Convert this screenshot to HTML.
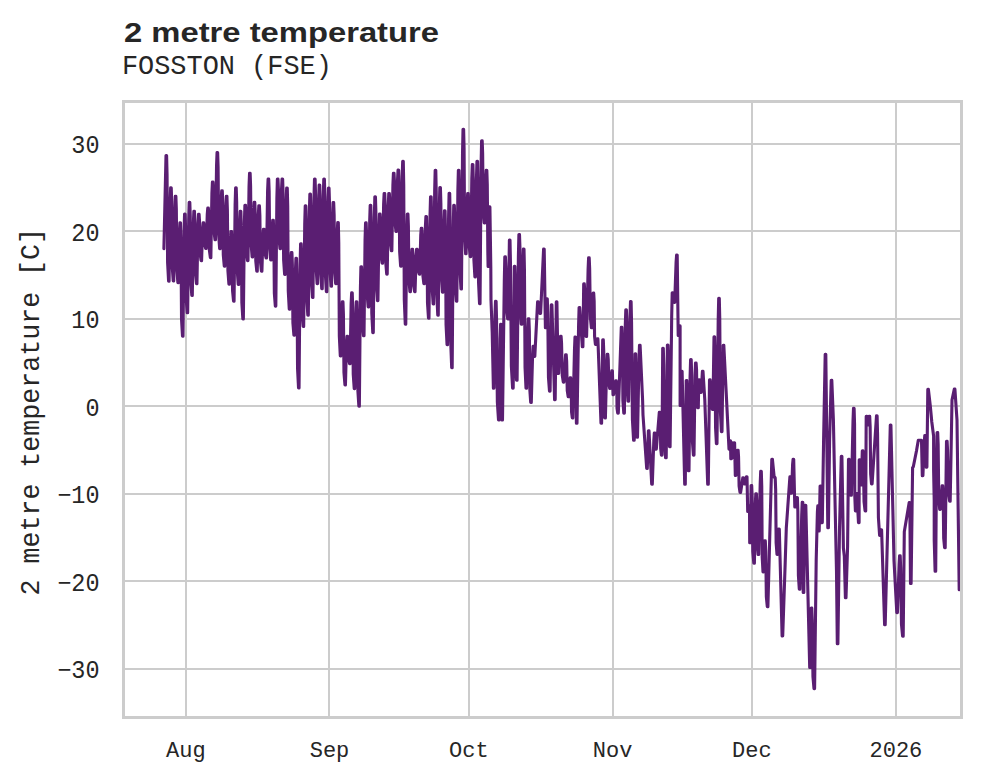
<!DOCTYPE html>
<html><head><meta charset="utf-8"><title>2 metre temperature</title>
<style>
html,body{margin:0;padding:0;background:#fff;}
body{width:981px;height:782px;overflow:hidden;font-family:"Liberation Sans",sans-serif;}
svg{display:block}
.mono{font-family:"Liberation Mono",monospace;}
.sans{font-family:"Liberation Sans",sans-serif;}
</style></head><body>
<svg width="981" height="782" viewBox="0 0 981 782">
<rect x="0" y="0" width="981" height="782" fill="#ffffff"/>
<g stroke="#cccccc" stroke-width="2" fill="none"><line x1="186" y1="101" x2="186" y2="718"/><line x1="329" y1="101" x2="329" y2="718"/><line x1="469" y1="101" x2="469" y2="718"/><line x1="613" y1="101" x2="613" y2="718"/><line x1="752" y1="101" x2="752" y2="718"/><line x1="896" y1="101" x2="896" y2="718"/><line x1="123" y1="144" x2="961" y2="144"/><line x1="123" y1="231" x2="961" y2="231"/><line x1="123" y1="319" x2="961" y2="319"/><line x1="123" y1="406" x2="961" y2="406"/><line x1="123" y1="494" x2="961" y2="494"/><line x1="123" y1="581" x2="961" y2="581"/><line x1="123" y1="669" x2="961" y2="669"/></g>
<path d="M163.90,248.8 L166.00,155.6 L166.60,155.6 L167.05,174.4 L167.60,262.4 L168.59,281.2 L169.09,281.2 L170.14,201.7 L170.64,187.7 L171.24,187.7 L171.69,201.6 L172.24,267.0 L173.23,280.9 L173.73,280.9 L174.78,209.0 L175.28,196.4 L175.88,196.4 L176.33,209.3 L176.88,269.6 L177.87,282.6 L178.37,282.6 L179.42,231.7 L179.92,222.8 L180.52,222.8 L180.97,239.8 L181.52,319.2 L182.51,336.2 L183.01,336.2 L184.06,232.4 L184.56,214.1 L185.16,214.1 L185.61,228.9 L186.16,297.9 L187.15,312.8 L187.65,312.8 L188.70,218.9 L189.20,202.4 L189.81,202.4 L190.25,216.3 L190.81,281.5 L191.80,295.4 L192.30,295.4 L193.35,223.9 L193.85,211.3 L194.45,211.3 L194.90,222.1 L195.45,272.7 L196.44,283.6 L196.94,283.6 L197.99,224.7 L198.49,214.4 L199.09,214.4 L199.54,221.3 L200.09,253.6 L201.08,260.6 L201.58,260.6 L202.63,228.4 L203.13,222.8 L203.73,222.8 L204.18,226.6 L204.73,244.7 L205.72,248.5 L206.22,248.5 L207.27,214.1 L207.77,208.1 L208.37,208.1 L208.82,215.5 L209.37,250.1 L210.36,257.6 L210.86,257.6 L211.91,193.3 L212.41,182.0 L213.01,182.0 L213.46,190.6 L214.01,231.2 L215.00,239.8 L215.50,239.8 L216.55,165.6 L217.05,152.5 L217.65,152.5 L218.10,166.9 L218.65,234.3 L219.64,248.7 L220.14,248.7 L221.19,199.5 L221.69,190.9 L222.29,190.9 L222.74,202.2 L223.29,254.9 L224.28,266.2 L224.78,266.2 L225.83,206.8 L226.33,196.4 L226.93,196.4 L227.38,209.5 L227.93,270.9 L228.92,284.1 L229.42,284.1 L230.47,239.3 L230.97,231.5 L231.57,231.5 L232.02,241.9 L232.57,290.8 L233.56,301.2 L234.06,301.2 L235.12,204.9 L235.62,187.9 L236.22,187.9 L236.67,202.3 L237.22,269.9 L238.21,284.4 L238.71,284.4 L239.76,222.2 L240.26,211.3 L240.86,211.3 L241.31,227.4 L241.86,302.7 L242.85,318.9 L243.35,318.9 L244.40,222.2 L244.90,205.2 L245.50,205.2 L245.95,213.5 L246.50,252.2 L247.49,260.6 L247.99,260.6 L249.04,186.3 L249.54,173.2 L250.14,173.2 L250.59,185.7 L251.14,244.4 L252.13,256.9 L252.63,256.9 L253.68,210.5 L254.18,202.4 L254.78,202.4 L255.23,212.7 L255.78,260.9 L256.77,271.2 L257.27,271.2 L258.32,215.5 L258.82,205.7 L259.42,205.7 L259.87,215.5 L260.42,261.4 L261.41,271.2 L261.91,271.2 L262.96,235.5 L263.46,229.2 L264.06,229.2 L264.51,233.5 L265.06,253.6 L266.05,257.9 L266.55,257.9 L267.60,190.8 L268.10,179.0 L268.70,179.0 L269.15,191.1 L269.70,247.8 L270.69,259.9 L271.19,259.9 L272.24,226.1 L272.74,220.2 L273.34,220.2 L273.79,233.0 L274.34,293.2 L275.33,306.1 L275.83,306.1 L276.88,198.0 L277.38,179.0 L277.98,179.0 L278.43,189.4 L278.98,238.3 L279.98,248.7 L280.48,248.7 L281.53,189.4 L282.03,179.0 L282.63,179.0 L283.08,193.3 L283.63,260.0 L284.62,274.4 L285.12,274.4 L286.17,201.0 L286.67,188.1 L287.27,188.1 L287.72,206.2 L288.27,290.9 L289.26,309.1 L289.76,309.1 L290.81,260.9 L291.31,252.5 L291.91,252.5 L292.36,264.9 L292.91,322.8 L293.90,335.2 L294.40,335.2 L295.45,269.7 L295.95,258.2 L296.55,258.2 L297.00,277.6 L297.55,368.4 L298.54,387.9 L299.04,387.9 L300.09,265.3 L300.59,243.7 L301.19,243.7 L301.64,256.1 L302.19,314.0 L303.18,326.4 L303.68,326.4 L304.73,223.8 L305.23,205.7 L305.83,205.7 L306.28,222.1 L306.83,298.8 L307.82,315.2 L308.32,315.2 L309.37,212.1 L309.87,194.0 L310.47,194.0 L310.92,209.5 L311.47,281.9 L312.46,297.4 L312.96,297.4 L314.01,196.7 L314.51,179.0 L315.11,179.0 L315.56,194.6 L316.11,267.9 L317.10,283.6 L317.60,283.6 L318.65,199.7 L319.15,185.0 L319.75,185.0 L320.20,200.5 L320.75,273.1 L321.74,288.7 L322.24,288.7 L323.29,195.4 L323.79,179.0 L324.39,179.0 L324.84,195.9 L325.39,274.7 L326.38,291.7 L326.88,291.7 L327.94,203.6 L328.44,188.1 L329.04,188.1 L329.49,202.8 L330.04,271.4 L331.03,286.2 L331.53,286.2 L332.58,215.1 L333.08,202.6 L333.68,202.6 L334.13,214.7 L334.68,271.4 L335.67,283.6 L336.17,283.6 L337.22,231.6 L337.72,222.5 L338.32,222.5 L338.77,242.5 L339.32,335.8 L340.31,355.9 L340.81,355.9 L341.86,309.8 L342.36,301.7 L342.96,301.7 L343.41,314.1 L343.96,372.5 L344.95,384.9 L345.45,384.9 L346.50,343.6 L347.00,336.3 L347.60,336.3 L348.05,340.3 L348.60,359.5 L349.59,363.6 L350.09,363.6 L351.14,303.4 L351.64,292.8 L352.24,292.8 L352.69,307.1 L353.24,374.2 L354.23,388.6 L354.73,388.6 L355.78,314.7 L356.28,301.7 L356.88,301.7 L357.33,317.3 L357.88,390.6 L358.87,406.2 L359.37,406.2 L360.42,287.6 L360.92,266.7 L361.52,266.7 L361.97,277.0 L362.52,325.4 L363.51,335.8 L364.01,335.8 L365.06,239.6 L365.56,222.7 L366.16,222.7 L366.61,235.3 L367.16,294.3 L368.15,306.9 L368.65,306.9 L369.70,220.5 L370.20,205.2 L370.80,205.2 L371.25,224.3 L371.80,313.5 L372.79,332.6 L373.29,332.6 L374.34,217.0 L374.84,196.7 L375.44,196.7 L375.89,212.2 L376.44,285.0 L377.44,300.6 L377.94,300.6 L378.99,227.0 L379.49,214.1 L380.09,214.1 L380.54,221.4 L381.09,255.7 L382.08,263.1 L382.58,263.1 L383.63,204.0 L384.13,193.6 L384.73,193.6 L385.18,205.6 L385.73,262.0 L386.72,274.1 L387.22,274.1 L388.27,205.6 L388.77,193.6 L389.37,193.6 L389.82,202.1 L390.37,242.2 L391.36,250.7 L391.86,250.7 L392.91,184.8 L393.41,173.2 L394.01,173.2 L394.46,181.9 L395.01,222.8 L396.00,231.5 L396.50,231.5 L397.55,179.3 L398.05,170.1 L398.65,170.1 L399.10,184.5 L399.65,251.7 L400.64,266.2 L401.14,266.2 L402.19,177.0 L402.69,161.2 L403.29,161.2 L403.74,185.7 L404.29,299.8 L405.28,324.2 L405.78,324.2 L406.83,230.6 L407.33,214.1 L407.93,214.1 L408.38,225.7 L408.93,279.9 L409.92,291.6 L410.42,291.6 L411.47,255.6 L411.97,249.2 L412.57,249.2 L413.02,255.6 L413.57,285.2 L414.56,291.6 L415.06,291.6 L416.11,255.6 L416.61,249.2 L417.21,249.2 L417.66,253.0 L418.21,270.3 L419.20,274.1 L419.70,274.1 L420.75,235.2 L421.25,228.3 L421.86,228.3 L422.31,236.6 L422.86,275.3 L423.85,283.6 L424.35,283.6 L425.40,226.5 L425.90,216.5 L426.50,216.5 L426.95,231.7 L427.50,302.9 L428.49,318.2 L428.99,318.2 L430.04,214.9 L430.54,196.7 L431.14,196.7 L431.59,212.7 L432.14,287.9 L433.13,303.9 L433.63,303.9 L434.68,190.2 L435.18,170.2 L435.78,170.2 L436.23,191.9 L436.78,293.5 L437.77,315.2 L438.27,315.2 L439.32,206.6 L439.82,187.5 L440.42,187.5 L440.87,203.2 L441.42,276.5 L442.41,292.2 L442.91,292.2 L443.96,223.1 L444.46,210.8 L445.06,210.8 L445.51,230.9 L446.06,324.6 L447.05,344.7 L447.55,344.7 L448.60,216.0 L449.10,193.2 L449.70,193.2 L450.15,219.4 L450.70,341.5 L451.69,367.7 L452.19,367.7 L453.24,229.5 L453.74,205.2 L454.34,205.2 L454.79,219.6 L455.34,286.8 L456.33,301.2 L456.83,301.2 L457.88,189.8 L458.38,170.2 L458.98,170.2 L459.43,188.0 L459.98,271.0 L460.97,288.9 L461.47,288.9 L462.52,153.2 L463.02,129.2 L463.62,129.2 L464.07,147.9 L464.62,235.2 L465.62,253.8 L466.12,253.8 L467.17,202.6 L467.67,193.6 L468.27,193.6 L468.72,203.0 L469.27,247.1 L470.26,256.6 L470.76,256.6 L471.81,178.3 L472.31,164.5 L472.91,164.5 L473.36,181.3 L473.91,260.0 L474.90,276.9 L475.40,276.9 L476.45,178.7 L476.95,161.3 L477.55,161.3 L478.00,182.7 L478.55,282.4 L479.54,303.8 L480.04,303.8 L481.09,165.3 L481.59,140.8 L482.19,140.8 L482.64,153.2 L483.19,210.6 L484.18,222.9 L484.68,222.9 L485.73,178.1 L486.23,170.2 L486.83,170.2 L487.28,184.6 L487.83,252.0 L488.10,266.4 L488.70,266.4 L489.30,206.9 L489.90,206.9 L490.80,267.0 L491.00,300.0 L492.20,332.0 L493.40,388.1 L494.00,388.1 L495.00,314.2 L495.50,301.2 L496.10,301.2 L496.55,319.0 L497.36,402.1 L498.50,419.9 L499.10,419.9 L500.10,338.6 L500.60,324.2 L501.20,324.2 L501.90,419.9 L502.50,419.9 L504.30,281.3 L504.80,256.9 L505.40,256.9 L505.85,266.2 L506.61,309.6 L507.70,318.9 L508.30,318.9 L509.40,240.1 L510.00,240.1 L510.45,262.2 L511.36,365.9 L512.60,388.1 L513.20,388.1 L514.30,266.4 L514.90,266.4 L515.35,283.4 L515.74,363.2 L516.50,380.3 L517.10,380.3 L518.40,256.3 L518.90,234.5 L519.50,234.5 L519.95,247.9 L520.40,310.7 L521.20,324.1 L521.80,324.1 L522.90,260.2 L523.40,249.0 L524.00,249.0 L524.45,269.8 L525.05,367.4 L526.00,388.2 L526.60,388.2 L527.80,329.1 L528.30,318.7 L528.90,318.7 L529.35,331.2 L529.85,389.9 L530.70,402.4 L531.30,402.4 L532.60,354.6 L533.10,346.2 L533.70,346.2 L534.20,356.4 L534.80,356.4 L537.60,301.9 L538.20,301.9 L540.00,313.4 L540.60,313.4 L543.60,249.1 L544.20,249.1 L545.40,327.8 L546.00,327.8 L546.70,298.9 L547.30,298.9 L547.75,312.7 L548.46,377.3 L549.50,391.1 L550.10,391.1 L551.30,304.7 L551.90,304.7 L554.60,399.6 L555.20,399.6 L556.30,301.9 L556.90,301.9 L558.10,373.4 L558.70,373.4 L560.00,341.9 L560.50,336.4 L561.10,336.4 L561.55,343.2 L562.26,375.2 L563.30,382.1 L563.90,382.1 L565.60,354.7 L566.20,354.7 L566.65,361.0 L567.25,390.5 L568.20,396.8 L568.80,396.8 L570.10,377.9 L570.70,377.9 L571.15,383.9 L571.54,411.9 L572.30,417.9 L572.90,417.9 L574.50,349.2 L575.00,337.1 L575.60,337.1 L576.40,423.2 L577.00,423.2 L578.60,324.8 L579.10,307.5 L579.70,307.5 L582.30,346.8 L582.90,346.8 L583.70,283.9 L584.30,283.9 L584.75,291.7 L585.20,328.6 L586.00,336.4 L586.60,336.4 L588.10,269.6 L588.60,257.9 L589.20,257.9 L589.65,268.4 L590.36,317.3 L591.40,327.8 L592.00,327.8 L593.10,293.1 L593.70,293.1 L594.15,300.8 L594.60,336.7 L595.40,344.4 L596.00,344.4 L597.30,338.9 L597.90,338.9 L601.00,423.2 L601.60,423.2 L602.70,339.9 L603.30,339.9 L603.75,351.6 L604.09,406.2 L604.80,417.9 L605.40,417.9 L606.70,363.9 L607.20,354.4 L607.80,354.4 L608.25,359.5 L608.80,383.3 L609.70,388.4 L610.30,388.4 L611.80,370.9 L612.40,370.9 L613.00,394.6 L613.60,394.6 L615.70,380.9 L616.30,380.9 L616.75,385.7 L617.04,408.3 L617.70,413.1 L618.30,413.1 L621.30,327.2 L621.90,327.2 L622.35,340.1 L622.90,400.3 L623.80,413.1 L624.40,413.1 L625.30,325.3 L625.80,309.9 L626.40,309.9 L626.85,323.5 L627.24,387.5 L628.00,401.1 L628.60,401.1 L630.00,316.4 L630.50,301.5 L631.10,301.5 L631.55,322.3 L632.41,419.5 L633.60,440.3 L634.20,440.3 L635.10,353.8 L635.70,353.8 L636.90,437.1 L637.50,437.1 L639.00,359.1 L639.50,345.4 L640.10,345.4 L642.60,400.0 L643.00,415.0 L646.70,468.4 L647.30,468.4 L648.40,430.9 L649.00,430.9 L651.70,484.2 L652.30,484.2 L653.80,440.7 L654.30,433.1 L654.90,433.1 L655.70,449.1 L656.30,449.1 L659.30,412.4 L659.90,412.4 L660.35,418.8 L660.69,448.7 L661.40,455.1 L662.00,455.1 L662.70,348.2 L663.30,348.2 L663.75,364.6 L664.51,441.3 L665.60,457.8 L666.20,457.8 L667.40,345.1 L668.00,345.1 L668.45,360.3 L668.79,431.6 L669.50,446.8 L670.10,446.8 L671.70,315.8 L672.20,292.7 L672.80,292.7 L674.10,302.4 L674.70,302.4 L676.10,262.1 L676.60,255.0 L677.20,255.0 L678.20,335.4 L678.80,335.4 L679.50,325.9 L680.10,325.9 L680.12,405.4 L680.50,405.4 L681.50,371.2 L682.10,371.2 L684.70,484.2 L685.30,484.2 L686.20,380.5 L686.80,380.5 L687.25,394.0 L687.64,457.2 L688.40,470.8 L689.00,470.8 L690.10,376.2 L690.60,359.6 L691.20,359.6 L691.65,373.9 L692.36,440.8 L693.40,455.1 L694.00,455.1 L695.00,376.8 L695.50,363.0 L696.10,363.0 L696.55,369.7 L696.94,401.0 L697.70,407.8 L698.30,407.8 L698.80,379.9 L699.40,379.9 L700.60,392.4 L701.20,392.4 L702.40,371.4 L703.00,371.4 L704.80,400.0 L707.70,484.2 L708.30,484.2 L709.50,379.9 L710.10,379.9 L712.30,409.4 L712.90,409.4 L714.00,336.9 L714.60,336.9 L715.05,352.9 L715.55,427.5 L716.40,443.6 L717.00,443.6 L718.20,320.1 L718.70,298.4 L719.30,298.4 L719.75,318.3 L720.40,411.7 L721.40,431.6 L722.00,431.6 L723.20,345.2 L723.80,345.2 L726.00,388.7 L729.00,449.1 L729.60,449.1 L729.90,440.9 L730.50,440.9 L730.80,458.6 L731.40,458.6 L731.90,442.9 L732.50,442.9 L732.52,457.4 L733.10,457.4 L734.00,442.9 L734.60,442.9 L735.30,475.4 L735.90,475.4 L737.50,450.2 L738.10,450.2 L738.55,456.6 L739.10,486.1 L740.00,492.4 L740.60,492.4 L742.80,477.7 L743.40,477.7 L744.30,483.9 L744.90,483.9 L746.40,476.7 L747.00,476.7 L747.70,511.4 L748.30,511.4 L748.90,505.9 L749.50,505.9 L749.70,542.8 L750.30,542.8 L751.10,485.5 L751.70,485.5 L752.15,497.1 L752.80,551.5 L753.80,563.2 L754.40,563.2 L755.30,504.2 L755.80,493.9 L756.40,493.9 L756.85,502.9 L757.30,545.4 L758.10,554.5 L758.70,554.5 L760.20,483.7 L760.70,471.2 L761.30,471.2 L761.75,486.3 L762.20,556.8 L763.00,571.9 L763.60,571.9 L764.70,540.8 L765.30,540.8 L765.75,550.7 L766.35,596.8 L767.30,606.7 L767.90,606.7 L771.80,459.2 L772.40,459.2 L774.20,477.4 L774.80,477.4 L774.82,477.7 L775.20,477.7 L775.65,489.2 L776.15,542.9 L777.00,554.5 L777.60,554.5 L778.70,529.0 L779.30,529.0 L782.10,636.0 L782.70,636.0 L785.20,562.6 L786.30,528.2 L789.90,476.9 L790.50,476.9 L791.00,493.1 L791.60,493.1 L792.60,464.3 L793.10,459.2 L793.70,459.2 L794.80,506.9 L795.40,506.9 L796.80,497.6 L797.40,497.6 L797.85,511.3 L798.40,575.5 L799.30,589.2 L799.90,589.2 L801.70,515.2 L802.20,502.2 L802.80,502.2 L803.20,592.5 L803.80,592.5 L804.70,518.3 L805.20,505.2 L805.80,505.2 L809.70,667.5 L810.30,667.5 L811.20,608.0 L811.80,608.0 L812.25,620.1 L812.96,676.5 L814.00,688.6 L814.60,688.6 L816.20,560.0 L817.40,512.0 L817.80,505.9 L818.40,505.9 L818.60,531.0 L819.20,531.0 L820.10,486.1 L820.70,486.1 L821.70,522.6 L822.30,522.6 L823.60,440.0 L825.20,354.2 L825.80,354.2 L826.80,440.0 L827.80,527.7 L828.40,527.7 L829.60,440.0 L831.20,380.2 L831.80,380.2 L833.40,420.0 L834.80,490.0 L836.50,572.0 L837.30,643.7 L837.90,643.7 L839.50,530.0 L841.30,456.2 L841.90,456.2 L843.40,548.0 L844.30,556.0 L845.40,597.7 L846.00,597.7 L847.60,546.0 L848.50,459.2 L849.10,459.2 L849.55,464.6 L850.00,489.9 L850.80,495.3 L851.40,495.3 L853.00,421.4 L853.50,408.4 L854.10,408.4 L854.55,423.7 L854.79,495.6 L855.40,510.9 L856.00,510.9 L856.30,493.6 L856.90,493.6 L858.50,522.6 L859.10,522.6 L859.20,459.9 L859.80,459.9 L860.70,484.9 L861.30,484.9 L862.30,450.8 L862.90,450.8 L863.35,459.8 L864.06,501.9 L865.10,510.9 L865.70,510.9 L866.20,416.4 L866.80,416.4 L867.70,424.9 L868.30,424.9 L869.10,416.4 L869.70,416.4 L870.15,426.6 L870.65,473.8 L871.50,483.9 L872.10,483.9 L876.50,415.8 L877.10,415.8 L877.55,433.7 L878.41,517.5 L879.60,535.5 L880.20,535.5 L881.00,529.8 L881.60,529.8 L882.10,546.0 L884.60,624.7 L885.20,624.7 L890.30,425.0 L890.90,425.0 L894.00,560.6 L896.80,612.7 L897.40,612.7 L899.10,564.3 L899.60,555.7 L900.20,555.7 L900.65,567.8 L901.46,624.1 L902.60,636.2 L903.20,636.2 L904.30,531.7 L909.20,502.5 L909.80,502.5 L910.50,583.5 L911.10,583.5 L912.60,467.6 L913.30,466.8 L916.50,450.7 L918.30,440.2 L921.50,440.2 L922.30,475.6 L922.90,475.6 L924.30,441.5 L924.80,435.5 L925.40,435.5 L926.30,467.1 L926.90,467.1 L927.80,389.4 L928.40,389.4 L930.30,405.9 L931.80,422.0 L933.60,436.0 L933.62,470.0 L934.20,500.0 L934.22,540.0 L935.10,571.2 L935.70,571.2 L936.60,453.3 L937.10,432.5 L937.70,432.5 L938.15,444.0 L938.75,497.9 L939.70,509.4 L940.30,509.4 L942.10,485.9 L942.70,485.9 L943.15,495.1 L943.70,538.4 L944.60,547.7 L945.20,547.7 L946.50,441.2 L947.10,441.2 L947.55,450.2 L948.41,492.1 L949.60,501.1 L950.20,501.1 L952.00,400.0 L954.30,389.1 L954.90,389.1 L957.00,420.0 L959.20,589.8" fill="none" stroke="#5a1e72" stroke-width="3.1" stroke-linejoin="round" stroke-linecap="round"/>
<rect x="123.5" y="101.5" width="838" height="616" fill="none" stroke="#cccccc" stroke-width="3"/>
<text class="sans" x="124" y="41.9" font-size="27.2" font-weight="bold" fill="#262626" textLength="315" lengthAdjust="spacingAndGlyphs">2 metre temperature</text>
<text class="mono" x="121.9" y="74.1" font-size="26.8" fill="#262626" textLength="210" lengthAdjust="spacingAndGlyphs">FOSSTON (FSE)</text>
<g class="mono" font-size="22" fill="#262626"><text x="185.8" y="757" text-anchor="middle">Aug</text><text x="329.5" y="757" text-anchor="middle">Sep</text><text x="468.8" y="757" text-anchor="middle">Oct</text><text x="612.6" y="757" text-anchor="middle">Nov</text><text x="751.8" y="757" text-anchor="middle">Dec</text><text x="895.9" y="757" text-anchor="middle">2026</text></g>
<g class="mono" font-size="23.5" fill="#262626"><text transform="translate(99.5,153.2) scale(1,1.07)" text-anchor="end">30</text><text transform="translate(99.5,240.7) scale(1,1.07)" text-anchor="end">20</text><text transform="translate(99.5,328.2) scale(1,1.07)" text-anchor="end">10</text><text transform="translate(99.5,415.7) scale(1,1.07)" text-anchor="end">0</text><text transform="translate(99.5,503.2) scale(1,1.07)" text-anchor="end">−10</text><text transform="translate(99.5,590.7) scale(1,1.07)" text-anchor="end">−20</text><text transform="translate(99.5,678.2) scale(1,1.07)" text-anchor="end">−30</text></g>
<text class="mono" font-size="28" fill="#262626" text-anchor="middle" transform="translate(39.3,411.7) rotate(-90)" textLength="367.5" lengthAdjust="spacingAndGlyphs">2 metre temperature [C]</text>
</svg>
</body></html>
